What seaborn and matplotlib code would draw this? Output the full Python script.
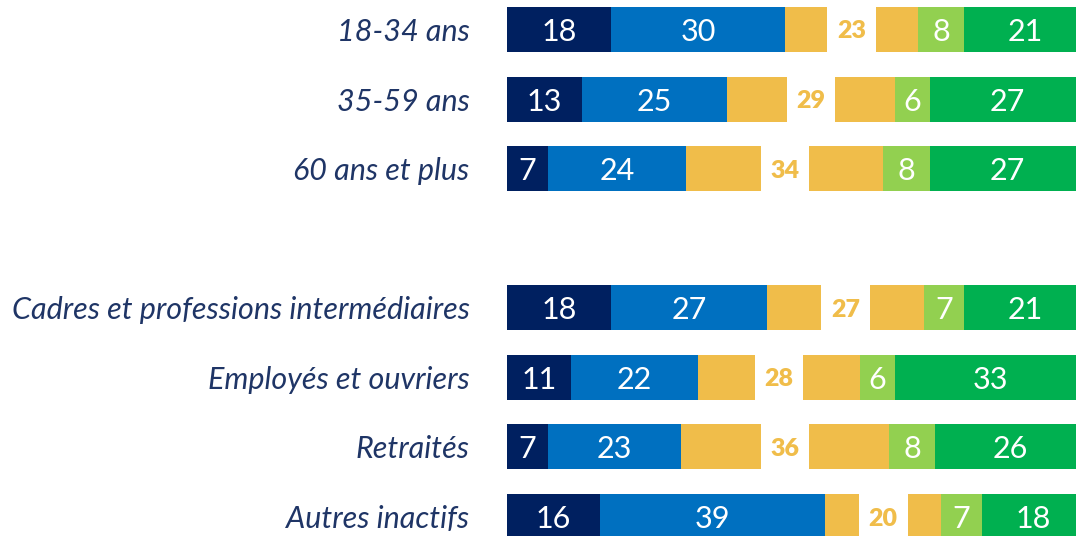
import numpy as np
import pandas as pd
import matplotlib
matplotlib.use("Agg")
import matplotlib.pyplot as plt
import seaborn as sns

categories = ["18-34 ans", "35-59 ans", "60 ans et plus",
              "Cadres et professions intermédiaires", "Employés et ouvriers",
              "Retraités", "Autres inactifs"]
s1 = [18, 13, 7, 18, 11, 7, 16]    # navy
s2 = [30, 25, 24, 27, 22, 23, 39]  # blue
s3 = [23, 29, 34, 27, 28, 36, 20]  # yellow
s4 = [8, 6, 8, 7, 6, 8, 7]         # light green
s5 = [21, 27, 27, 21, 33, 26, 18]  # green

order = categories[:3] + [" "] + categories[3:]

colors = ["#002060", "#0070C0", "#F0BD4A", "#92D050", "#00B050"]
label_color = "#1F3566"

sns.set_theme(style="white")
plt.rcParams['font.family'] = ['Lato', 'DejaVu Sans']

df = pd.DataFrame({"group": categories, "s1": s1, "s2": s2, "s3": s3, "s4": s4, "s5": s5})
df["c1"] = df.s1
df["c2"] = df.c1 + df.s2
df["c3"] = df.c2 + df.s3
df["c4"] = df.c3 + df.s4
df["c5"] = df.c4 + df.s5
hw = 4.2  # half width of the white gap in yellow segment
df["wr"] = df.c2 + df.s3 / 2 + hw
df["wl"] = df.c2 + df.s3 / 2 - hw

fig = plt.figure(figsize=(10.76, 5.36), dpi=100)
ax = fig.add_axes([507 / 1076, 0, 1 - 507 / 1076, 1])

bw = 0.647
layers = [("c5", colors[4]), ("c4", colors[3]), ("c3", colors[2]),
          ("wr", "white"), ("wl", colors[2]), ("c2", colors[1]), ("c1", colors[0])]
for col, c in layers:
    sns.barplot(data=df, x=col, y="group", order=order, color=c, width=bw,
                orient="h", ax=ax, linewidth=0, saturation=1, errorbar=None)

pos = {g: order.index(g) for g in categories}
nfs = 22
for _, r in df.iterrows():
    y = pos[r["group"]]
    kw = dict(color="white", ha="center", va="center_baseline", fontsize=nfs)
    ax.text(r.c1 / 2, y, f"{r.s1}", **kw)
    ax.text(r.c1 + r.s2 / 2, y, f"{r.s2}", **kw)
    ax.text(r.c2 + r.s3 / 2, y, f"{r.s3}", color=colors[2], ha="center",
            va="center_baseline", fontsize=18, fontweight="heavy")
    ax.text(r.c3 + r.s4 / 2, y, f"{r.s4}", **kw)
    ax.text(r.c4 + r.s5 / 2, y, f"{r.s5}", **kw)

ax.set_xlim(0, 98.3)
ax.set_ylim(7.28, -0.424)
ax.set_xlabel("")
ax.set_ylabel("")
ax.set_xticks([])
ax.tick_params(axis="y", length=0, pad=27)
for lab in ax.get_yticklabels():
    lab.set_fontstyle("italic")
    lab.set_color(label_color)
    lab.set_fontsize(22)
sns.despine(ax=ax, left=True, bottom=True)

fig.savefig("out.png", dpi=100)
